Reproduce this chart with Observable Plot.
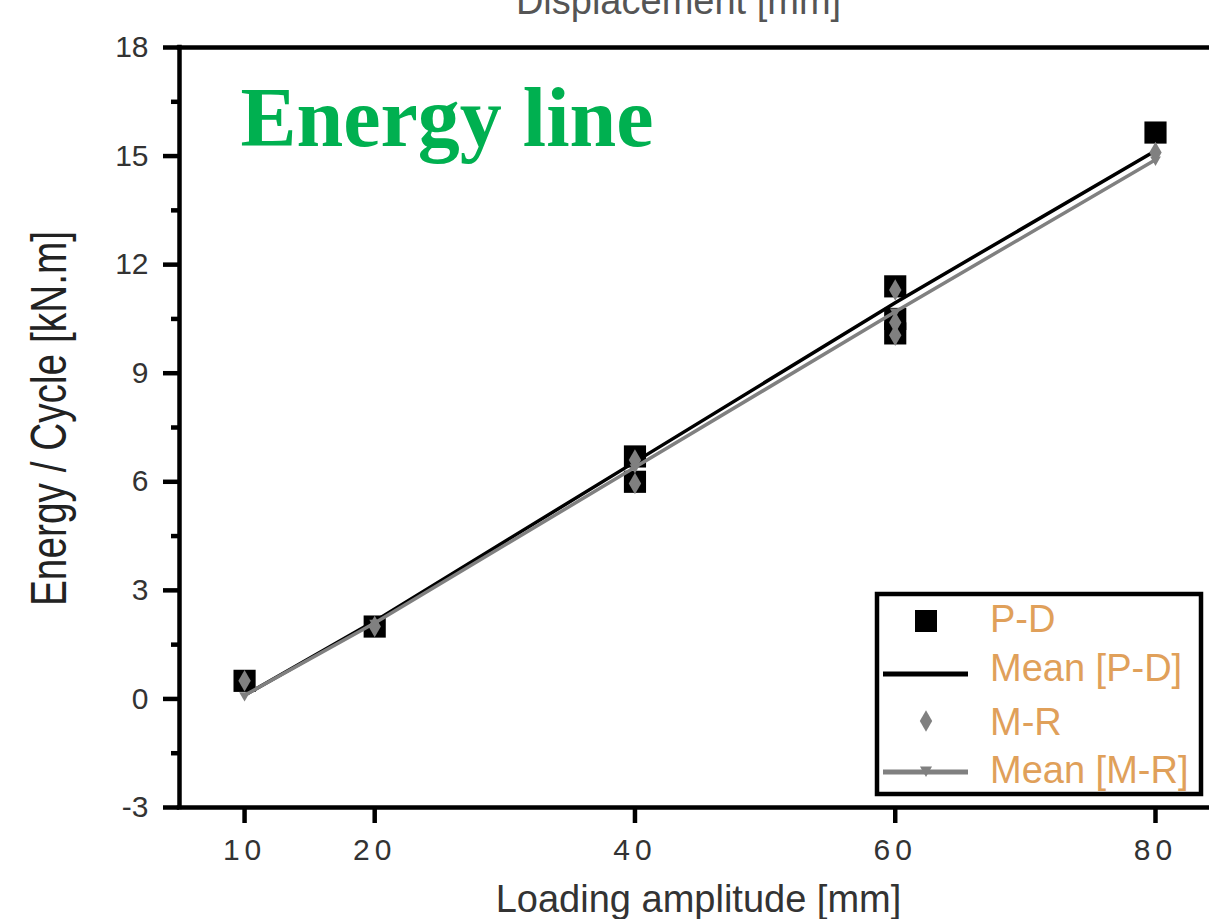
<!DOCTYPE html>
<html><head><meta charset="utf-8">
<script src="https://cdn.jsdelivr.net/npm/d3@7"></script>
<script src="https://cdn.jsdelivr.net/npm/@observablehq/plot@0.6"></script>
<style>
html,body{margin:0;padding:0;background:#fff;}
#chart svg{display:block;}
</style></head><body><div id="chart"></div>
<script>
// ---- data ----
const amplitudes = [10, 20, 40, 60, 80];
const pdX = [10, 20, 40, 40, 60, 60, 60, 80];
const pdY = [0.5, 2.0, 6.7, 6.0, 11.4, 10.5, 10.1, 15.65];
const mrX = [10, 20, 40, 40, 60, 60, 60, 80];
const mrY = [0.5, 2.0, 6.6, 5.95, 11.3, 10.4, 10.05, 15.1];
const meanPD = [0.1, 2.15, 6.55, 10.95, 15.15];
const meanMR = [0.1, 2.1, 6.4, 10.7, 14.9];
const xTicks = [10, 20, 40, 60, 80];
const yTicks = [-3, 0, 3, 6, 9, 12, 15, 18];
const yMinorTicks = [-1.5, 1.5, 4.5, 7.5, 10.5, 13.5, 16.5];
const xDomain = [5, 84.15];
const yDomain = [-3, 18];
const legendLabels = ["P-D", "Mean [P-D]", "M-R", "Mean [M-R]"];
const titleText = "Energy line";
const xLabel = "Loading amplitude [mm]";
const yLabel = "Energy / Cycle [kN.m]";
const topLabel = "Displacement [mm]";

const pdPts = pdX.map((x, i) => ({x, y: pdY[i]}));
const mrPts = mrX.map((x, i) => ({x, y: mrY[i]}));
const meanPDPts = amplitudes.map((x, i) => ({x, y: meanPD[i]}));
const meanMRPts = amplitudes.map((x, i) => ({x, y: meanMR[i]}));

const FONT = "'Liberation Sans', Arial, sans-serif";
const GRAY = "#808080";

const plot = Plot.plot({
  width: 1209, height: 919,
  marginLeft: 179, marginRight: 0, marginTop: 47, marginBottom: 112,
  x: {domain: xDomain},
  y: {domain: yDomain},
  style: {fontFamily: FONT, background: "white", overflow: "hidden"},
  marks: [
    Plot.axisY({ticks: yMinorTicks, tickSize: 8, tickFormat: () => "", strokeWidth: 4.5, label: null}),
    Plot.axisY({ticks: yTicks, tickSize: 16, tickPadding: 15, tickFormat: d => String(d), fontSize: 30, fill: "#333", strokeWidth: 4.5, label: null}),
    Plot.axisX({ticks: xTicks, tickSize: 16, tickPadding: 15, tickFormat: d => String(d), fontSize: 30, fill: "#333", strokeWidth: 4.5, label: null}),
    Plot.ruleX([xDomain[0]], {stroke: "black", strokeWidth: 4.5, strokeLinecap: "square"}),
    Plot.ruleY(yDomain, {stroke: "black", strokeWidth: 4.5, strokeLinecap: "square"}),
    Plot.dot(pdPts, {x: "x", y: "y", symbol: "square", r: 12.5, fill: "black", stroke: "none"}),
    Plot.line(meanPDPts, {x: "x", y: "y", stroke: "black", strokeWidth: 3.5}),
    Plot.dot(mrPts, {x: "x", y: "y", symbol: "diamond", r: 6.5, fill: GRAY, stroke: "none"}),
    Plot.line(meanMRPts, {x: "x", y: "y", stroke: GRAY, strokeWidth: 3.5}),
    Plot.dot(meanMRPts, {x: "x", y: "y", symbol: "triangle", rotate: 180, r: 4, fill: GRAY, stroke: "none"}),
    Plot.text([titleText], {text: d => d, frameAnchor: "top-left", dx: 61, dy: 98, lineAnchor: "bottom", textAnchor: "start",
      fontSize: 84, fontWeight: "bold", fontFamily: "'Liberation Serif', 'Times New Roman', serif", fill: "#00B050"}),
    Plot.text([yLabel], {text: d => d, frameAnchor: "left", rotate: -90, dx: -114, dy: -9, lineAnchor: "bottom", textAnchor: "middle",
      fontSize: 50, fill: "#222"}),
    Plot.text([xLabel], {text: d => d, frameAnchor: "bottom", dx: 4, dy: 104, lineAnchor: "bottom", textAnchor: "middle",
      fontSize: 38, fill: "#333"}),
    Plot.text([topLabel], {text: d => d, frameAnchor: "top", dx: -16, dy: -34, lineAnchor: "bottom", textAnchor: "middle",
      fontSize: 38, fill: "#555"})
  ]
});

const svg = d3.select(plot);
svg.selectAll("text").filter(function() { return this.textContent === yLabel; })
  .attr("textLength", 375).attr("lengthAdjust", "spacingAndGlyphs");
svg.selectAll('g[aria-label="x-axis tick label"] text').style("letter-spacing", "5px");

// legend
const lg = svg.append("g").attr("font-family", FONT).attr("text-anchor", "start");
lg.append("rect").attr("x", 877).attr("y", 594).attr("width", 324).attr("height", 200)
  .attr("fill", "white").attr("stroke", "black").attr("stroke-width", 4.5);
lg.append("rect").attr("x", 915).attr("y", 610).attr("width", 22).attr("height", 22).attr("fill", "black");
lg.append("line").attr("x1", 883).attr("x2", 968).attr("y1", 674).attr("y2", 674).attr("stroke", "black").attr("stroke-width", 5);
lg.append("path").attr("d", d3.symbol(d3.symbolDiamond, Math.PI * 6.5 * 6.5)()).attr("transform", "translate(926,721)").attr("fill", GRAY);
lg.append("line").attr("x1", 883).attr("x2", 968).attr("y1", 772).attr("y2", 772).attr("stroke", GRAY).attr("stroke-width", 5);
lg.append("path").attr("d", d3.symbol(d3.symbolTriangle, Math.PI * 4.5 * 4.5)()).attr("transform", "translate(926,770) rotate(180)").attr("fill", GRAY);
const baselines = [632, 681, 735, 783];
legendLabels.forEach((t, i) => {
  lg.append("text").attr("x", 990).attr("y", baselines[i]).attr("text-anchor", "start")
    .attr("font-size", 38).attr("fill", "#E0A05A").text(t);
});

document.getElementById("chart").appendChild(plot);
</script>
</body></html>
